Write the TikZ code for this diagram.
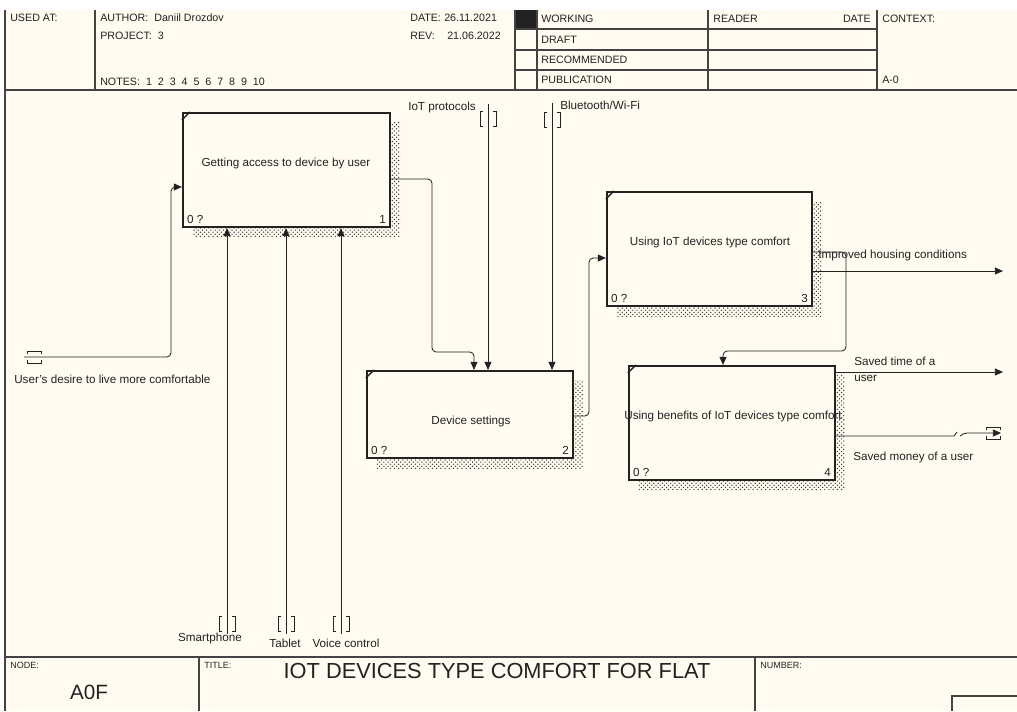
\documentclass[tikz,border=0pt]{standalone}
\usepackage{fontspec}
\setmainfont{Liberation Sans}
\usetikzlibrary{arrows.meta,positioning,shadows,patterns}
\definecolor{paper}{HTML}{FFFBF0}
\definecolor{ink}{HTML}{222222}
\tikzset{
  activity/.style={draw=ink,line width=1.5pt,fill=paper,rectangle,inner sep=0pt,
    general shadow={shadow xshift=7.1pt,shadow yshift=-7.1pt,pattern=crosshatch dots,pattern color=black!80}},
  flow/.style={draw=ink,line width=0.6pt,rounded corners=3pt,-{Triangle[length=5.8pt,width=5pt]}},
  frameline/.style={draw=ink!85,line width=1pt},
  hdr/.style={font=\fontsize{7.6}{9}\selectfont,anchor=west,inner sep=0pt,text=ink},
  arrowtext/.style={font=\fontsize{8.3}{9.6}\selectfont,inner sep=0pt,text=ink},
  vtunnel/.pic={\draw[ink,line width=0.6pt] (-5,-7.5) -- (-8,-7.5) -- (-8,7.5) -- (-5,7.5)
    (5,-7.5) -- (8,-7.5) -- (8,7.5) -- (5,7.5);},
  htunnel/.pic={\draw[ink,line width=0.6pt] (-7,-3) -- (-7,-6) -- (7,-6) -- (7,-3)
    (-7,3) -- (-7,6) -- (7,6) -- (7,3);}
}
\begin{document}
\begin{tikzpicture}[x=0.025cm,y=-0.025cm]
  \useasboundingbox (0,0) rectangle (1017,711);
  \fill[paper] (5,10) rectangle (1017,711);
  % frame
  \fill[ink] (515,10) rectangle (537,29);
  \draw[frameline] (5,10) -- (5,711);
  \draw[frameline] (5,90) -- (1017,90) (5,657) -- (1017,657);
  \foreach \x in {95,515,537,708,877} \draw[frameline] (\x,10) -- (\x,90);
  \foreach \y in {29,50,70} \draw[frameline] (515,\y) -- (877,\y);
  \draw[frameline] (199,657) -- (199,711) (755,657) -- (755,711);
  \draw[frameline] (952,711) -- (952,696) -- (1017,696);
  % header
  \node[hdr] (usedat) at (10,18) {USED AT:};
  \node[hdr] (author) at (100,18) {AUTHOR:\ \ Daniil Drozdov};
  \node[hdr] (project) at (100,36) {PROJECT:\ \ 3};
  \node[hdr] (notes) at (100,82) {NOTES:~~1~~2~~3~~4~~5~~6~~7~~8~~9~~10};
  \node[hdr] (date) at (410,18) {DATE:};
  \node[hdr] (dateval) at (444,18) {26.11.2021};
  \node[hdr] (rev) at (410,36) {REV:};
  \node[hdr] (revval) at (447,36) {21.06.2022};
  \node[hdr] (working) at (541,19) {WORKING};
  \node[hdr] (draft) at (541,40) {DRAFT};
  \node[hdr] (recommended) at (541,60) {RECOMMENDED};
  \node[hdr] (publication) at (541,80) {PUBLICATION};
  \node[hdr] (reader) at (713,19) {READER};
  \node[hdr,anchor=east] (readerdate) at (871,19) {DATE};
  \node[hdr] (context) at (882,19) {CONTEXT:};
  \node[hdr] (contextval) at (882,80) {A-0};
  % footer
  \node[hdr,font=\fontsize{6.4}{8}\selectfont] (nodelbl) at (10,665) {NODE:};
  \node[font=\fontsize{14.7}{17}\selectfont,text=ink] (nodeval) at (89,692) {A0F};
  \node[hdr,font=\fontsize{6.4}{8}\selectfont] (titlelbl) at (204,665) {TITLE:};
  \node[font=\fontsize{15.5}{18}\selectfont,text=ink] (title) at (497,671) {IOT DEVICES TYPE COMFORT FOR FLAT};
  \node[hdr,font=\fontsize{6.4}{8}\selectfont] (numberlbl) at (760,665) {NUMBER:};
  % activities
  \node[activity,minimum width=5.175cm,minimum height=2.85cm] (access) at (286.5,170) {};
  \node[activity,minimum width=5.15cm,minimum height=2.175cm] (settings) at (470,414.5) {};
  \node[activity,minimum width=5.125cm,minimum height=2.85cm] (using) at (709.5,249) {};
  \node[activity,minimum width=5.15cm,minimum height=2.85cm] (benefits) at (732,423) {};
  \foreach \b/\n in {access/1,settings/2,using/3,benefits/4}{
    \draw[ink,line width=1pt] ([shift={(0,8)}]\b.north west) -- ([shift={(8,0)}]\b.north west);
    \node[arrowtext,anchor=base west] (\b zero) at ([shift={(5,-5)}]\b.south west) {0 ?};
    \node[arrowtext,anchor=base east] (\b num) at ([shift={(-5,-5)}]\b.south east) {\n};
  }
  \node[arrowtext] (accesstxt) at (286,163) {Getting access to device by user};
  \node[arrowtext] (settingstxt) at (471,421) {Device settings};
  \node[arrowtext] (usingtxt) at (710,242) {Using IoT devices type comfort};
  \node[arrowtext] (benefitstxt) at (733,416) {Using benefits of IoT devices type comfort};
  % inputs and outputs
  \coordinate (desire) at (24,357);
  \draw[flow] (desire) -- (171,357) -- (171,187) -- (access.west |- 0,187);
  \pic at (34,357) {htunnel};
  \node[arrowtext,anchor=west] (desirelbl) at (14,379) {User's desire to live more comfortable};
  \draw[flow] (access.east |- 0,179) -- (432,179) -- (432,352) -- (474,352) -- (settings.north -| 474,0);
  \draw[flow] (settings.east |- 0,416) -- (589,416) -- (589,258) -- (using.west |- 0,258);
  \coordinate (housing) at (1003,271);
  \draw[flow] (using.east |- 0,271) -- (housing);
  \node[arrowtext,anchor=west] (housinglbl) at (818,255) {Improved housing conditions};
  \draw[flow] (using.east |- 0,252) -- (846,252) -- (846,351) -- (723,351) -- (benefits.north -| 723,0);
  \coordinate (savedtime) at (1003,372);
  \draw[flow] (benefits.east |- 0,372) -- (savedtime);
  \node[arrowtext,anchor=north west,align=left,font=\fontsize{8.3}{11}\selectfont] (timelbl) at (854,357) {Saved time of a\\user};
  \coordinate (mbreak) at (960,436);
  \coordinate (money) at (1001,433);
  \draw[ink,line width=0.6pt] (benefits.east |- 0,436) -- (954,436) -- (957,432);
  \draw[flow] (mbreak) -- (963,433) -- (money);
  \pic at (993,433) {htunnel};
  \node[arrowtext,anchor=west] (moneylbl) at (853,457) {Saved money of a user};
  % controls
  \coordinate (iotp) at (488,104);
  \draw[flow] (iotp) -- (settings.north -| iotp);
  \pic at (488,119) {vtunnel};
  \node[arrowtext,anchor=east] (iotplbl) at (476,107) {IoT protocols};
  \coordinate (bt) at (552,103);
  \draw[flow] (bt) -- (settings.north -| bt);
  \pic at (552,120) {vtunnel};
  \node[arrowtext,anchor=west] (btlbl) at (560,105) {Bluetooth/Wi-Fi};
  % mechanisms
  \foreach \m/\x/\t/\lx/\ly in {phone/227/Smartphone/210/638,tablet/286/Tablet/285/643,voice/341/Voice control/346/643}{
    \coordinate (\m) at (\x,634);
    \draw[flow] (\m) -- (access.south -| \m);
    \pic at (\x,624) {vtunnel};
    \node[arrowtext] (\m lbl) at (\lx,\ly) {\t};
  }
\end{tikzpicture}
\end{document}
